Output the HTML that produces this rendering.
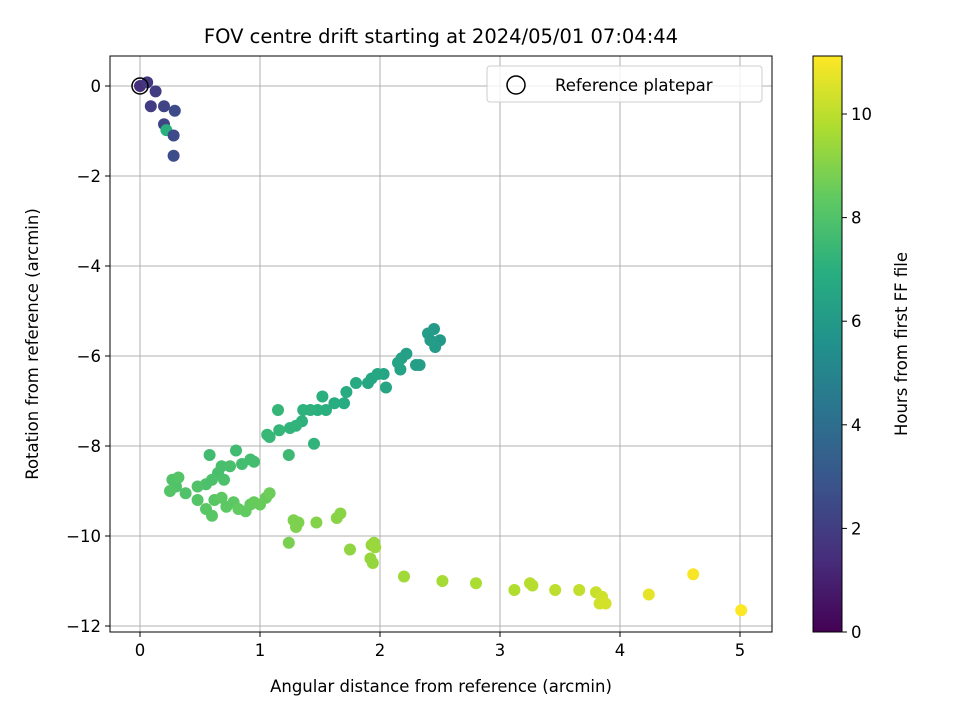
<!DOCTYPE html>
<html><head><meta charset="utf-8"><style>
body{margin:0;background:#fff;font-family:"Liberation Sans","DejaVu Sans",sans-serif}
svg text{font-family:"DejaVu Sans","Liberation Sans",sans-serif;fill:#000}
</style></head><body>
<svg id="c" width="960" height="720" xmlns="http://www.w3.org/2000/svg">
<defs><linearGradient id="vg" x1="0" y1="1" x2="0" y2="0">
<stop offset="0" stop-color="#440154"/><stop offset="0.125" stop-color="#472d7b"/><stop offset="0.25" stop-color="#3b528b"/><stop offset="0.375" stop-color="#2c728e"/><stop offset="0.5" stop-color="#21918c"/><stop offset="0.625" stop-color="#28ae80"/><stop offset="0.75" stop-color="#5ec962"/><stop offset="0.875" stop-color="#addc30"/><stop offset="1" stop-color="#fde725"/></linearGradient></defs>
<g id="grid"></g>
<g id="pts"></g>
<rect x="110" y="56" width="662" height="576" fill="none" stroke="#000" stroke-width="1"/>
<g id="axes"></g>
<text x="441" y="43" font-size="19.5" text-anchor="middle">FOV centre drift starting at 2024/05/01 07:04:44</text>
<text x="441" y="692" font-size="16.5" text-anchor="middle">Angular distance from reference (arcmin)</text>
<text transform="translate(38,344) rotate(-90)" font-size="16.5" text-anchor="middle">Rotation from reference (arcmin)</text>
<g>
<rect x="487" y="66" width="275" height="36" rx="3" fill="#fff" fill-opacity="0.8" stroke="#ccc"/>
<circle cx="516" cy="85" r="9" fill="none" stroke="#000" stroke-width="1.5"/>
<text x="555" y="91" font-size="16.5">Reference platepar</text>
</g>
<rect x="813" y="56" width="29" height="576" fill="url(#vg)" stroke="#000" stroke-width="1"/>
<g id="cb"></g>
<text transform="translate(907,344) rotate(-90)" font-size="16.5" text-anchor="middle">Hours from first FF file</text>
</svg>
<script>
const xTicks=[0,1,2,3,4,5];
const yTicks=[0,-2,-4,-6,-8,-10,-12];
const cTicks=[0,2,4,6,8,10];
const xs=[0,0.06,0.09,0.13,0.2,0.2,0.22,0.28,0.29,0.28,
2.45,2.5,2.4,2.42,2.46,2.3,2.33,2.22,2.18,2.15,2.17,2.03,2.05,1.98,1.93,1.9,1.8,1.72,1.7,1.62,1.52,1.55,1.48,1.42,1.36,1.35,1.3,1.25,1.45,1.16,1.15,1.08,1.06,1.24,
0.58,0.8,0.95,0.92,0.85,0.75,0.68,0.65,0.7,0.6,0.55,0.48,0.38,0.3,0.27,0.32,0.25,0.48,0.55,0.6,0.62,0.68,0.72,0.78,0.82,0.88,0.92,0.95,1.0,1.05,1.08,
1.24,1.28,1.3,1.32,1.47,1.64,1.67,1.75,1.92,1.94,1.93,1.95,1.96,2.2,2.52,2.8,3.12,3.25,3.27,3.46,3.66,3.8,3.83,3.85,3.88,4.24,4.61,5.01];
const ys=[0,0.08,-0.45,-0.12,-0.45,-0.85,-0.98,-1.1,-0.55,-1.55,
-5.4,-5.65,-5.5,-5.65,-5.8,-6.2,-6.2,-5.95,-6.05,-6.15,-6.3,-6.4,-6.7,-6.4,-6.5,-6.6,-6.6,-6.8,-7.05,-7.05,-6.9,-7.2,-7.2,-7.2,-7.2,-7.45,-7.55,-7.6,-7.95,-7.65,-7.2,-7.8,-7.75,-8.2,
-8.2,-8.1,-8.35,-8.3,-8.4,-8.45,-8.45,-8.6,-8.75,-8.75,-8.85,-8.9,-9.05,-8.9,-8.75,-8.7,-9.0,-9.2,-9.4,-9.55,-9.2,-9.15,-9.35,-9.25,-9.4,-9.45,-9.3,-9.25,-9.3,-9.15,-9.05,
-10.15,-9.65,-9.8,-9.7,-9.7,-9.6,-9.5,-10.3,-10.5,-10.6,-10.2,-10.15,-10.25,-10.9,-11.0,-11.05,-11.2,-11.05,-11.1,-11.2,-11.2,-11.25,-11.5,-11.35,-11.5,-11.3,-10.85,-11.65];
const hs=[1.5,1.8,2,2,2.2,2.3,7,2.5,2.5,2.6,
6.0,6.0,6.1,6.1,6.1,6.2,6.2,6.3,6.3,6.4,6.4,6.5,6.5,6.6,6.6,6.6,6.7,6.8,6.8,6.9,7.0,7.0,7.0,7.1,7.1,7.1,7.2,7.2,7.2,7.3,7.3,7.4,7.4,7.5,
7.6,7.6,7.7,7.7,7.7,7.8,7.8,7.8,7.9,7.9,7.9,8.0,8.0,8.0,8.0,8.1,8.1,8.1,8.2,8.2,8.2,8.3,8.3,8.3,8.4,8.4,8.4,8.5,8.5,8.5,8.6,
8.8,8.9,8.9,8.9,9.0,9.1,9.1,9.2,9.3,9.3,9.3,9.4,9.4,9.5,9.6,9.7,9.8,9.9,9.9,10.0,10.1,10.2,10.3,10.3,10.4,10.7,11.0,11.1];
const X=v=>140+v*120, Y=v=>86-v*45, HMAX=11.12, C=v=>632-v/HMAX*576;
const NS="http://www.w3.org/2000/svg";
function mk(t,a,p){const e=document.createElementNS(NS,t);for(const k in a)e.setAttribute(k,a[k]);p.appendChild(e);return e;}
const stops=[[68,1,84],[71,45,123],[59,82,139],[44,114,142],[33,145,140],[40,174,128],[94,201,98],[173,220,48],[253,231,37]];
function vir(h){let t=Math.max(0,Math.min(1,h/HMAX))*8;let i=Math.min(7,Math.floor(t)),f=t-i;const a=stops[i],b=stops[i+1];return `rgb(${a.map((v,k)=>Math.round(v+(b[k]-v)*f)).join(',')})`;}
const g=document.getElementById('grid'),ax=document.getElementById('axes'),p=document.getElementById('pts'),cb=document.getElementById('cb');
xTicks.forEach(v=>{
const l=mk('line',{x1:X(v),x2:X(v),y1:56,y2:632,stroke:'#b0b0b0','stroke-width':1},g);


mk('line',{x1:X(v),x2:X(v),y1:632,y2:637,stroke:'#000'},ax);
const t=mk('text',{x:X(v),y:656,'font-size':16.5,'text-anchor':'middle'},ax);t.textContent=v;


});
yTicks.forEach(v=>{
const l=mk('line',{x1:110,x2:772,y1:Y(v),y2:Y(v),stroke:'#b0b0b0','stroke-width':1},g);


mk('line',{x1:105,x2:110,y1:Y(v),y2:Y(v),stroke:'#000'},ax);
const t=mk('text',{x:101,y:Y(v)+6,'font-size':16.5,'text-anchor':'end'},ax);t.textContent=v<0?'\u2212'+(-v):v;


});
cTicks.forEach(v=>{
mk('line',{x1:842,x2:847,y1:C(v),y2:C(v),stroke:'#000'},cb);
const t=mk('text',{x:851,y:C(v)+6,'font-size':16.5},cb);t.textContent=v;


});
xs.forEach((v,i)=>{
const c=mk('circle',{cx:X(v),cy:Y(ys[i]),r:6,fill:vir(hs[i])},p);


});
const r=mk('circle',{cx:X(0),cy:Y(0),r:8,fill:'none',stroke:'#000','stroke-width':1.5},p);


</script>
</body></html>
